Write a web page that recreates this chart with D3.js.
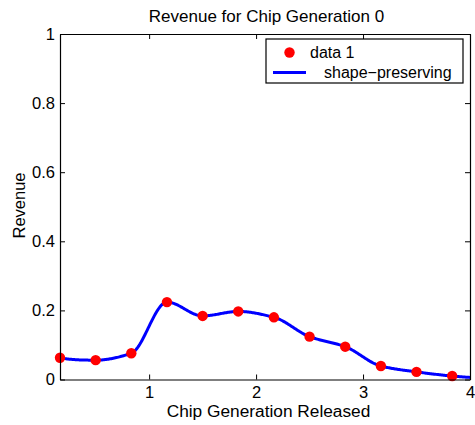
<!DOCTYPE html>
<html>
<head>
<meta charset="utf-8">
<script src="https://cdn.jsdelivr.net/npm/d3@7"></script>
<style>
  html, body { margin: 0; padding: 0; background: #fff; }
  svg { display: block; font-family: "Liberation Sans", Arial, Helvetica, sans-serif; }
</style>
</head>
<body>
<svg id="chart" width="475" height="425"></svg>
<script>
// Sample points: chip generation released vs. revenue
const generations = [1/6, 1/2, 5/6, 7/6, 3/2, 11/6, 13/6, 5/2, 17/6, 19/6, 7/2, 23/6];
const revenue = [0.063, 0.056, 0.076, 0.224, 0.184, 0.197, 0.180, 0.124, 0.095, 0.039, 0.022, 0.010];
const xTicks = [1, 2, 3, 4];
const yTicks = [0, 0.2, 0.4, 0.6, 0.8, 1];
const xDomain = [1/6, 4];
const yDomain = [0, 1];

const svg = d3.select("#chart");
const margin = { left: 60, right: 5, top: 34, bottom: 45.5 };
const W = 475, H = 425;
const x = d3.scaleLinear().domain(xDomain).range([margin.left, W - margin.right]);
const y = d3.scaleLinear().domain(yDomain).range([H - margin.bottom, margin.top]);

// Piecewise cubic Hermite (shape-preserving) interpolant
function pchip(xs, ys) {
  const n = xs.length;
  const h = [], del = [];
  for (let i = 0; i < n - 1; i++) {
    h.push(xs[i + 1] - xs[i]);
    del.push((ys[i + 1] - ys[i]) / h[i]);
  }
  const d = new Array(n).fill(0);
  for (let k = 1; k < n - 1; k++) {
    if (del[k - 1] * del[k] > 0) {
      const w1 = 2 * h[k] + h[k - 1], w2 = h[k] + 2 * h[k - 1];
      d[k] = (w1 + w2) / (w1 / del[k - 1] + w2 / del[k]);
    }
  }
  function endSlope(h0, h1, d0, d1) {
    let s = ((2 * h0 + h1) * d0 - h0 * d1) / (h0 + h1);
    if (Math.sign(s) !== Math.sign(d0)) s = 0;
    else if (Math.sign(d0) !== Math.sign(d1) && Math.abs(s) > Math.abs(3 * d0)) s = 3 * d0;
    return s;
  }
  d[0] = endSlope(h[0], h[1], del[0], del[1]);
  d[n - 1] = endSlope(h[n - 2], h[n - 3], del[n - 2], del[n - 3]);
  return function (t) {
    let k = 0;
    while (k < n - 2 && t > xs[k + 1]) k++;
    const hk = h[k], s = t - xs[k];
    const c = (3 * del[k] - 2 * d[k] - d[k + 1]) / hk;
    const b = (d[k] - 2 * del[k] + d[k + 1]) / (hk * hk);
    return ys[k] + s * (d[k] + s * (c + s * b));
  };
}

const f = pchip(generations, revenue);
const curve = d3.range(0, 401).map(i => {
  const t = xDomain[0] + (xDomain[1] - xDomain[0]) * i / 400;
  return [t, f(t)];
});

// Title and axis labels
svg.append("text").attr("x", 266.5).attr("y", 21.7).attr("text-anchor", "middle")
  .attr("font-size", 17).attr("fill", "#000").text("Revenue for Chip Generation 0");
svg.append("text").attr("x", 268.5).attr("y", 416.5).attr("text-anchor", "middle")
  .attr("font-size", 17.3).attr("fill", "#000").text("Chip Generation Released");
svg.append("text").attr("transform", "translate(25,205.5) rotate(-90)").attr("text-anchor", "middle")
  .attr("font-size", 16.5).attr("fill", "#000").text("Revenue");

const plot = svg.append("g");

// Curve and markers, clipped to the axes box
svg.append("clipPath").attr("id", "clip").append("rect")
  .attr("x", margin.left).attr("y", margin.top)
  .attr("width", W - margin.left - margin.right).attr("height", H - margin.top - margin.bottom);

plot.append("path").datum(curve)
  .attr("clip-path", "url(#clip)")
  .attr("fill", "none").attr("stroke", "#0000ff").attr("stroke-width", 3)
  .attr("stroke-linejoin", "round")
  .attr("d", d3.line().x(p => x(p[0])).y(p => y(p[1])));

plot.selectAll("circle.pt").data(generations).enter().append("circle")
  .attr("class", "pt")
  .attr("cx", (g) => x(g)).attr("cy", (g, i) => y(revenue[i]))
  .attr("r", 5.2).attr("fill", "#ff0000");

// Axes with inward ticks on all four sides
const tickLen = 5;
const fmt = d3.format("");
const axB = svg.append("g").attr("transform", `translate(0,${y(0)})`)
  .call(d3.axisBottom(x).tickValues(xTicks).tickSizeInner(-tickLen).tickSizeOuter(0).tickPadding(7).tickFormat(fmt));
const axT = svg.append("g").attr("transform", `translate(0,${y(1)})`)
  .call(d3.axisTop(x).tickValues(xTicks).tickSizeInner(-tickLen).tickSizeOuter(0).tickFormat(""));
const axL = svg.append("g").attr("transform", `translate(${x(xDomain[0])},0)`)
  .call(d3.axisLeft(y).tickValues(yTicks).tickSizeInner(-tickLen).tickSizeOuter(0).tickPadding(5).tickFormat(fmt));
const axR = svg.append("g").attr("transform", `translate(${x(xDomain[1])},0)`)
  .call(d3.axisRight(y).tickValues(yTicks).tickSizeInner(-tickLen).tickSizeOuter(0).tickFormat(""));

[axB, axT, axL, axR].forEach(a => {
  a.select(".domain").attr("stroke", "#000").attr("stroke-width", 1.2);
  a.selectAll(".tick line").attr("stroke", "#000").attr("stroke-width", 1);
  a.selectAll(".tick text").attr("font-size", 16.5).attr("fill", "#000")
    .attr("font-family", "'Liberation Sans', Arial, Helvetica, sans-serif");
});

// Legend
const lg = svg.append("g");
lg.append("rect").attr("x", 266).attr("y", 39).attr("width", 197).attr("height", 44)
  .attr("fill", "#fff").attr("stroke", "#000").attr("stroke-width", 1.2);
lg.append("circle").attr("cx", 289.5).attr("cy", 52.5).attr("r", 5.2).attr("fill", "#ff0000");
lg.append("text").attr("x", 310).attr("y", 58).attr("font-size", 16).attr("fill", "#000").text("data 1");
lg.append("line").attr("x1", 273).attr("x2", 306).attr("y1", 72.5).attr("y2", 72.5)
  .attr("stroke", "#0000ff").attr("stroke-width", 3);
lg.append("text").attr("x", 324).attr("y", 78).attr("font-size", 16).attr("fill", "#000").text("shape−preserving");
</script>
</body>
</html>
